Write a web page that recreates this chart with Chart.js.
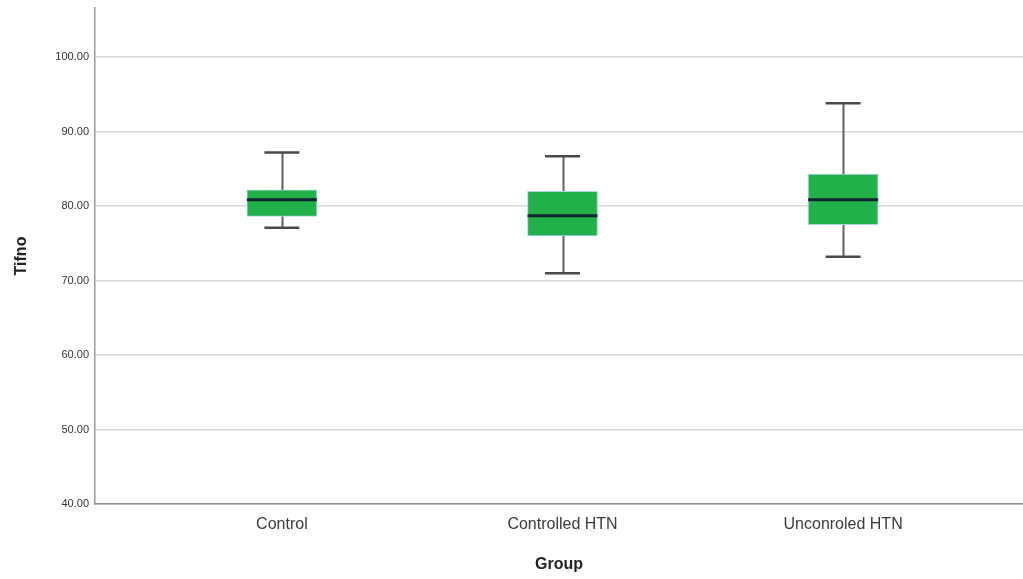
<!DOCTYPE html>
<html>
<head>
<meta charset="utf-8">
<script src="https://cdn.jsdelivr.net/npm/chart.js@4/dist/chart.umd.min.js"></script>
<style>
  html, body { margin: 0; padding: 0; background: #fff; }
  #wrap { width: 1023px; height: 579px; position: relative; }
</style>
</head>
<body>
<div id="wrap"><canvas id="c"></canvas></div>
<script>
// Tifno by group: five-number summaries
const categories = ['Control', 'Controlled HTN', 'Unconroled HTN'];
const whiskerLow  = [77.1, 71.0, 73.2];
const quartile1   = [78.6, 76.0, 77.5];
const medians     = [80.85, 78.7, 80.85];
const quartile3   = [82.2, 82.0, 84.3];
const whiskerHigh = [87.2, 86.7, 93.8];
const yTickValues = [40, 50, 60, 70, 80, 90, 100];

const boxData = categories.map((c, i) => ({ x: i + 1, y: [quartile1[i], quartile3[i]] }));

// whiskers, caps and median lines, positioned through the chart scales
const boxExtras = {
  id: 'boxExtras',
  beforeDatasetsDraw(chart) {
    const { ctx, scales: { x, y } } = chart;
    ctx.save();
    categories.forEach((c, i) => {
      const cx = Math.round(x.getPixelForValue(i + 1)) + 0.5;
      ctx.strokeStyle = '#606060';
      ctx.lineWidth = 2;
      ctx.beginPath();
      ctx.moveTo(cx, y.getPixelForValue(whiskerLow[i]));
      ctx.lineTo(cx, y.getPixelForValue(whiskerHigh[i]));
      ctx.stroke();
    });
    ctx.restore();
  },
  afterDatasetsDraw(chart) {
    const { ctx, scales: { x, y } } = chart;
    ctx.save();
    categories.forEach((c, i) => {
      const cx = x.getPixelForValue(i + 1);
      // caps
      ctx.strokeStyle = '#4a4a4a';
      ctx.lineWidth = 2.5;
      [whiskerLow[i], whiskerHigh[i]].forEach(v => {
        const py = y.getPixelForValue(v);
        ctx.beginPath();
        ctx.moveTo(cx - 17.5, py);
        ctx.lineTo(cx + 17.5, py);
        ctx.stroke();
      });
      // median
      const my = y.getPixelForValue(medians[i]);
      ctx.strokeStyle = '#132433';
      ctx.lineWidth = 3;
      ctx.beginPath();
      ctx.moveTo(cx - 35, my);
      ctx.lineTo(cx + 35, my);
      ctx.stroke();
    });
    ctx.restore();
  }
};

new Chart(document.getElementById('c'), {
  type: 'bar',
  data: {
    datasets: [{
      data: boxData,
      backgroundColor: '#22b04b',
      borderColor: '#a8d8e8',
      borderWidth: 1,
      borderSkipped: false,
      barThickness: 70
    }]
  },
  plugins: [boxExtras],
  options: {
    responsive: true,
    maintainAspectRatio: false,
    animation: false,
    layout: { padding: { top: 8, right: 0, left: 0, bottom: 0 } },
    plugins: { legend: { display: false }, tooltip: { enabled: false } },
    scales: {
      x: {
        type: 'linear',
        offset: false,
        min: 0.334,
        max: 3.641,
        afterBuildTicks(scale) { scale.ticks = categories.map((c, i) => ({ value: i + 1 })); },
        afterFit(scale) { scale.height = 75; },
        ticks: {
          callback: v => categories[v - 1],
          color: '#3a3a3a',
          font: { family: 'Liberation Sans, Arial', size: 16 },
          padding: 11,
          maxRotation: 0,
          autoSkip: false
        },
        grid: { display: false, drawTicks: false, offset: false },
        border: { display: true, color: '#8c8c8c', width: 1.5 },
        title: {
          display: true,
          text: 'Group',
          color: '#222',
          font: { family: 'Liberation Sans, Arial', size: 16, weight: 'bold' },
          padding: { top: 4, bottom: 5 }
        }
      },
      y: {
        type: 'linear',
        min: 40,
        max: 106.6,
        afterBuildTicks(scale) { scale.ticks = yTickValues.map(v => ({ value: v })); },
        afterFit(scale) {
          scale.width = 95;
          scale.paddingTop = 0;
          scale.paddingBottom = 0;
        },
        ticks: {
          callback: v => v.toFixed(2),
          color: '#333',
          font: { family: 'Liberation Sans, Arial', size: 11 },
          padding: 6
        },
        grid: { color: '#d6d6d6', lineWidth: 1.5, drawTicks: false },
        border: { display: true, color: '#9a9a9a', width: 1.5 },
        title: {
          display: true,
          text: 'Tifno',
          color: '#222',
          font: { family: 'Liberation Sans, Arial', size: 16, weight: 'bold' },
          padding: { top: 12, bottom: 0 }
        }
      }
    }
  }
});
</script>
</body>
</html>
